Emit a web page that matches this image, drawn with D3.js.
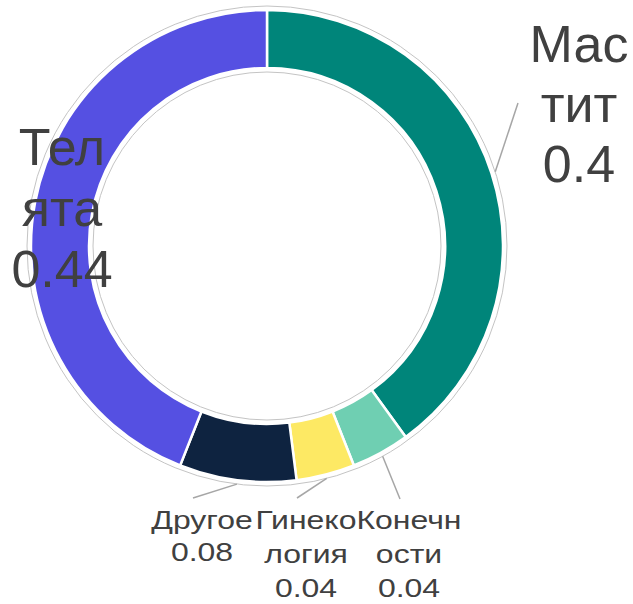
<!DOCTYPE html>
<html>
<head>
<meta charset="utf-8">
<script src="https://cdn.jsdelivr.net/npm/d3@7"></script>
<style>
  body { margin: 0; background: #fff; }
  svg { display: block; font-family: "Liberation Sans", Arial, sans-serif; }
</style>
</head>
<body>
<svg class="canvas"></svg>
<script>
// donut chart - distribution of cases

var dwidth = 633;
var dheight = 604;

// data
var categories = ["Мастит", "Конечности", "Гинекология", "Другое", "Телята"];
var values = [0.4, 0.04, 0.04, 0.08, 0.44];
var labelText = [["Мас", "тит"], ["Конечн", "ости"], ["Гинеко", "логия"], ["Другое"], ["Тел", "ята"]];
var colors = ["#00857a", "#6fcfb2", "#fde964", "#0e2340", "#5550e2"];

// layout
var cx = 267, cy = 246;
var rOut = 236, rIn = 178;
var labelPos = [
  {x: 579, y: 62, lh: 60, size: 52, sx: 1, line: [518, 103]},
  {x: 409, y: 529, lh: 34, size: 26, sx: 1.23, line: [400, 499]},
  {x: 306, y: 529, lh: 34, size: 26, sx: 1.23, line: [297, 498]},
  {x: 202, y: 529, lh: 32, size: 26, sx: 1.23, line: [193, 498]},
  {x: 62, y: 165, lh: 61, size: 52, sx: 1, line: null}
];

var canv = d3.select(".canvas").attr("width", dwidth).attr("height", dheight);

var slices = categories.map(function(c, i) { return {name: c, value: values[i], idx: i}; });
var pie = d3.pie().sort(null).value(function(d) { return d.value; });
var arcs = pie(slices);

var arcGen = d3.arc().innerRadius(rIn).outerRadius(rOut);

var g = canv.append("g").attr("transform", "translate(" + cx + "," + cy + ")");

// thin grey outlines
g.append("circle").attr("r", rOut + 4).attr("fill", "none").attr("stroke", "#c4c4c4").attr("stroke-width", 1);
g.append("circle").attr("r", rIn - 4).attr("fill", "none").attr("stroke", "#c4c4c4").attr("stroke-width", 1);

g.selectAll("path.slice")
  .data(arcs)
  .enter()
  .append("path")
  .attr("class", "slice")
  .attr("d", arcGen)
  .style("fill", function(d) { return colors[d.data.idx]; })
  .style("stroke", "#fff")
  .style("stroke-width", 2.5);

// leader lines
g.selectAll("line.lead")
  .data(arcs.filter(function(d) { return labelPos[d.data.idx].line; }))
  .enter()
  .append("line")
  .attr("class", "lead")
  .attr("x1", function(d) { var a = (d.startAngle + d.endAngle) / 2; return (rOut + 4) * Math.sin(a); })
  .attr("y1", function(d) { var a = (d.startAngle + d.endAngle) / 2; return -(rOut + 4) * Math.cos(a); })
  .attr("x2", function(d) { return labelPos[d.data.idx].line[0] - cx; })
  .attr("y2", function(d) { return labelPos[d.data.idx].line[1] - cy; })
  .style("stroke", "#a6a6a6")
  .style("stroke-width", 1.5);

// labels (small ones are stretched wider, like the original)
var fmt = function(v) { return String(+v.toFixed(2)); };
var labs = canv.selectAll("text.lab")
  .data(arcs)
  .enter()
  .append("text")
  .attr("class", "lab")
  .attr("text-anchor", "middle")
  .attr("font-size", function(d) { return labelPos[d.data.idx].size + "px"; })
  .attr("transform", function(d) {
    var p = labelPos[d.data.idx];
    return "translate(" + p.x + ",0) scale(" + p.sx + ",1)";
  })
  .style("fill", "#404040");

labs.each(function(d) {
  var p = labelPos[d.data.idx];
  var rows = labelText[d.data.idx].concat([fmt(d.data.value)]);
  var t = d3.select(this);
  rows.forEach(function(r, k) {
    t.append("tspan").attr("x", 0).attr("y", p.y + k * p.lh).text(r);
  });
});
</script>
</body>
</html>
